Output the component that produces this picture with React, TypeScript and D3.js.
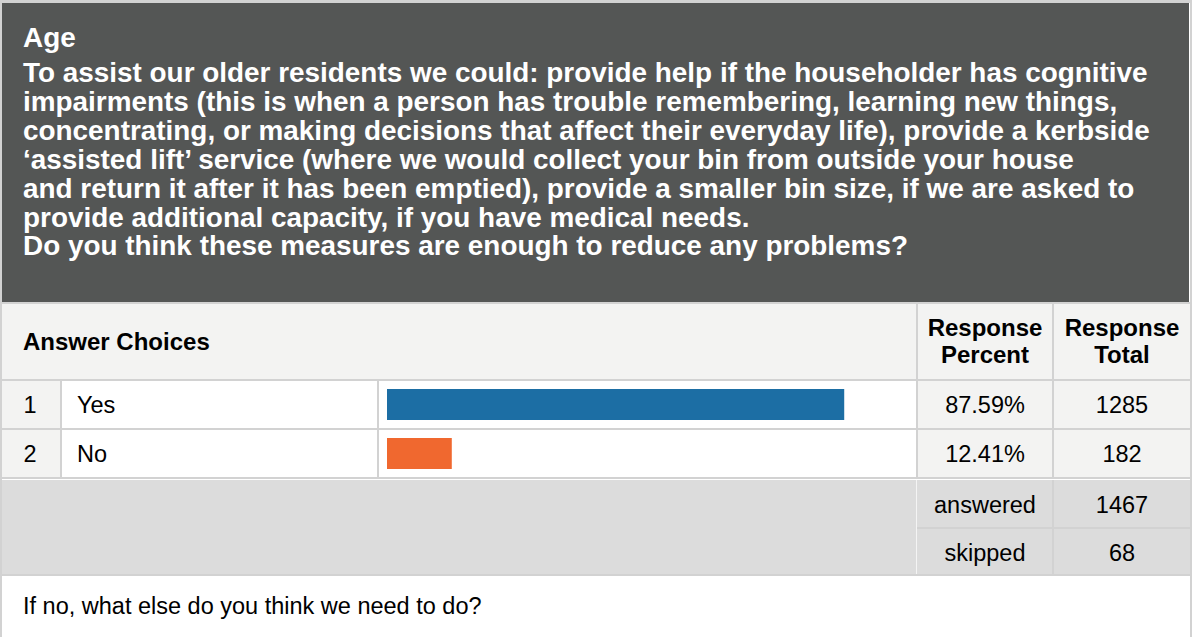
import React from "react";
import * as d3 from "d3";

const titleLines = [
  "Age",
  "To assist our older residents we could: provide help if the householder has cognitive",
  "impairments (this is when a person has trouble remembering, learning new things,",
  "concentrating, or making decisions that affect their everyday life), provide a kerbside",
  "\u2018assisted lift\u2019 service (where we would collect your bin from outside your house",
  "and return it after it has been emptied), provide a smaller bin size, if we are asked to",
  "provide additional capacity, if you have medical needs.",
  "Do you think these measures are enough to reduce any problems?",
];
const choiceLabels = ["Yes", "No"];
const choicePercents = [87.59, 12.41];
const choiceTotals = [1285, 182];
const summaryLabels = ["answered", "skipped"];
const summaryValues = [1467, 68];
const footerText = "If no, what else do you think we need to do?";

const W = 1192;
const H = 637;
const FONT = "Arial, 'Liberation Sans', Helvetica, sans-serif";
const BORDER = "#d2d2d2";
const DARK = "#545655";
const LIGHT = "#f3f3f2";
const SUMMARY = "#dcdcdc";
const barColors = ["#1c6ea4", "#f0682f"];

export default function App() {
  const x = d3.scaleLinear().domain([0, 100]).range([387, 387 + 522]);
  const rowTop = [381, 430];
  const rowH = 48;
  const sumTop = [480, 528];
  const colPct = 985;
  const colTot = 1122;

  return (
    <div style={{ position: "absolute", left: 0, top: 0 }}>
      <svg width={W} height={H} style={{ display: "block" }} fontFamily={FONT}>
        <rect x={0} y={0} width={W} height={H} fill="#ffffff" />
        {/* outer border */}
        <rect x={0} y={0} width={W} height={3} fill={BORDER} />
        <rect x={0} y={0} width={2} height={H} fill={BORDER} />
        <rect x={1190} y={0} width={2} height={H} fill={BORDER} />
        {/* dark header */}
        <rect x={2} y={3} width={1187} height={299} fill={DARK} />
        {titleLines.map((t, i) => (
          <text
            key={i}
            x={23}
            y={i === 0 ? 47 : 82 + (i - 1) * 28.9}
            fill="#ffffff"
            fontSize={27.9}
            fontWeight="bold"
          >
            {t}
          </text>
        ))}
        {/* column header row */}
        <rect x={2} y={302} width={1188} height={2} fill={BORDER} />
        <rect x={2} y={304} width={1188} height={75} fill={LIGHT} />
        <rect x={916} y={304} width={2} height={75} fill={BORDER} />
        <rect x={1052} y={304} width={2} height={75} fill={BORDER} />
        <text x={23} y={350} fontSize={24} fontWeight="bold" fill="#000">
          Answer Choices
        </text>
        <text x={colPct} y={336} fontSize={24} fontWeight="bold" textAnchor="middle" fill="#000">
          Response
        </text>
        <text x={colPct} y={363} fontSize={24} fontWeight="bold" textAnchor="middle" fill="#000">
          Percent
        </text>
        <text x={colTot} y={336} fontSize={24} fontWeight="bold" textAnchor="middle" fill="#000">
          Response
        </text>
        <text x={colTot} y={363} fontSize={24} fontWeight="bold" textAnchor="middle" fill="#000">
          Total
        </text>
        <rect x={2} y={379} width={1188} height={2} fill={BORDER} />
        {/* answer rows */}
        {choiceLabels.map((lab, i) => {
          const y0 = rowTop[i];
          const cy = y0 + 32;
          return (
            <g key={lab}>
              <rect x={2} y={y0} width={58} height={rowH - 1} fill={LIGHT} />
              <rect x={60} y={y0} width={2} height={rowH - 1} fill={BORDER} />
              <rect x={62} y={y0} width={315} height={rowH - 1} fill="#fff" />
              <rect x={377} y={y0} width={2} height={rowH - 1} fill={BORDER} />
              <rect x={379} y={y0} width={537} height={rowH - 1} fill="#fff" />
              <rect x={916} y={y0} width={2} height={rowH - 1} fill={BORDER} />
              <rect x={918} y={y0} width={134} height={rowH - 1} fill={LIGHT} />
              <rect x={1052} y={y0} width={2} height={rowH - 1} fill={BORDER} />
              <rect x={1054} y={y0} width={136} height={rowH - 1} fill={LIGHT} />
              <rect
                x={x(0)}
                y={y0 + 8}
                width={x(choicePercents[i]) - x(0)}
                height={31}
                fill={barColors[i]}
              />
              <text x={30} y={cy} fontSize={23.5} textAnchor="middle" fill="#000">
                {i + 1}
              </text>
              <text x={77} y={cy} fontSize={23.5} fill="#000">
                {lab}
              </text>
              <text x={colPct} y={cy} fontSize={23.5} textAnchor="middle" fill="#000">
                {choicePercents[i].toFixed(2) + "%"}
              </text>
              <text x={colTot} y={cy} fontSize={23.5} textAnchor="middle" fill="#000">
                {choiceTotals[i]}
              </text>
              <rect x={2} y={y0 + rowH - 1} width={1188} height={2} fill={BORDER} />
            </g>
          );
        })}
        {/* summary rows */}
        <rect x={2} y={480} width={1188} height={95} fill={SUMMARY} />
        <rect x={916} y={480} width={1} height={95} fill="#f4f4f4" />
        <rect x={1052} y={480} width={2} height={95} fill={BORDER} />
        <rect x={917} y={527} width={273} height={2} fill={BORDER} />
        {summaryLabels.map((lab, i) => (
          <g key={lab}>
            <text x={colPct} y={sumTop[i] + 33} fontSize={23.5} textAnchor="middle" fill="#000">
              {lab}
            </text>
            <text x={colTot} y={sumTop[i] + 33} fontSize={23.5} textAnchor="middle" fill="#000">
              {summaryValues[i]}
            </text>
          </g>
        ))}
        <rect x={2} y={574} width={1188} height={2} fill={BORDER} />
        {/* footer */}
        <text x={23} y={614} fontSize={23.5} fill="#000">
          {footerText}
        </text>
      </svg>
    </div>
  );
}
